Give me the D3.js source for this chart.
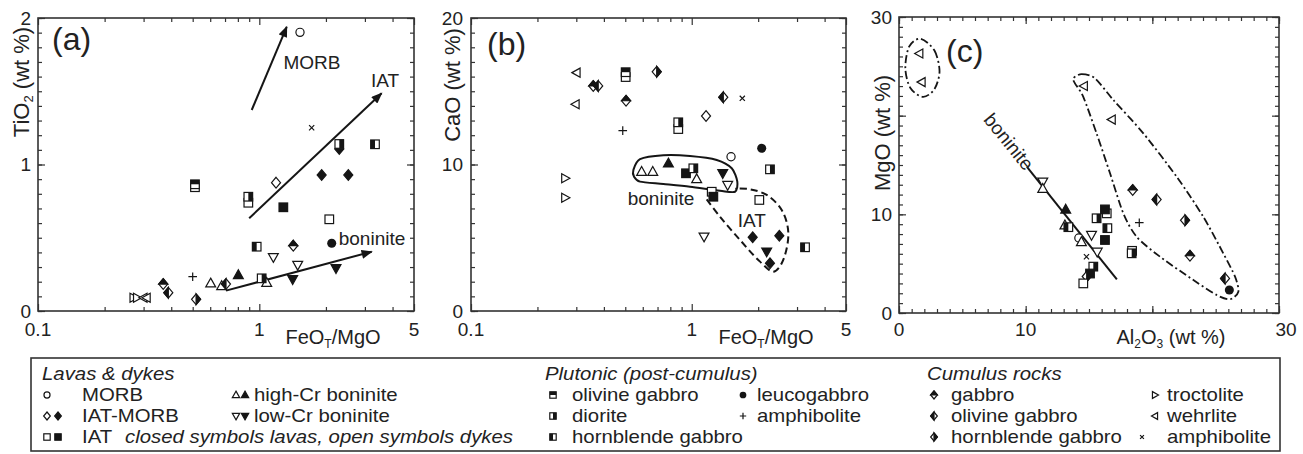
<!DOCTYPE html>
<html><head><meta charset="utf-8">
<script src="https://cdn.jsdelivr.net/npm/d3@7"></script>
<style>
body{margin:0;background:#fff}
text{font-family:"Liberation Sans",Arial,sans-serif;fill:#222}
</style>
</head><body>
<svg id="chart" width="1303" height="454"></svg>
<script>
// ---------------- DATA ----------------
// type codes: MORB, IATMORB_o/f, IAT_o/f, hcr_o/f (high-Cr boninite), lcr_o/f (low-Cr boninite),
// p_olgab, p_dior, p_hbl, p_leuco, p_amph (plutonic), c_gab, c_olgab, c_hbl, c_troc, c_wehr, c_amph (cumulus)
const pointsA = [ // FeOT/MgO, TiO2
  ["MORB",1.527,1.902],["c_amph",1.724,1.251],
  ["IATMORB_f",2.298,1.106],["p_dior",2.298,1.140],["p_hbl",3.332,1.138],
  ["IATMORB_f",1.913,0.928],["IATMORB_f",2.524,0.928],["IATMORB_o",1.190,0.876],
  ["IAT_o",0.512,0.845],["p_olgab",0.512,0.865],["IAT_o",0.892,0.739],["p_dior",0.892,0.780],
  ["IAT_f",1.284,0.708],["IAT_o",2.071,0.626],["p_leuco",2.124,0.462],
  ["p_hbl",0.973,0.439],["c_gab",1.424,0.446],
  ["lcr_o",1.157,0.367],["lcr_o",1.491,0.314],["lcr_f",2.221,0.291],["lcr_f",1.415,0.216],
  ["hcr_o",1.080,0.193],["p_dior",1.025,0.223],["hcr_f",0.804,0.246],
  ["hcr_o",0.603,0.189],["hcr_o",0.676,0.171],["c_olgab",0.707,0.184],
  ["p_amph",0.500,0.234],["c_gab",0.368,0.184],["c_olgab",0.388,0.125],["c_hbl",0.518,0.080],
  ["c_troc",0.270,0.091],["c_troc",0.280,0.091],["c_wehr",0.300,0.091],["c_wehr",0.310,0.091]
];
const pointsB = [ // FeOT/MgO, CaO
  ["c_wehr",0.301,16.27],["c_wehr",0.298,14.11],["c_troc",0.267,9.06],["c_troc",0.267,7.73],
  ["c_gab",0.358,15.36],["c_olgab",0.377,15.36],["IAT_o",0.502,15.97],["p_olgab",0.502,16.3],
  ["c_hbl",0.694,16.33],["c_gab",0.504,14.35],["p_amph",0.487,12.31],
  ["IAT_o",0.869,12.42],["p_dior",0.869,12.88],["IATMORB_o",1.161,13.31],
  ["c_olgab",1.390,14.59],["c_amph",1.695,14.52],["MORB",1.507,10.53],["p_leuco",2.075,11.11],
  ["p_dior",2.262,9.67],["hcr_o",0.593,9.51],["hcr_o",0.666,9.51],["hcr_f",0.784,10.08],
  ["IAT_f",0.942,9.40],["p_dior",1.017,9.74],["hcr_o",1.053,9.01],["lcr_f",1.382,9.40],
  ["lcr_o",1.455,8.60],["IAT_o",1.232,8.14],["IAT_f",1.253,7.80],["IAT_o",2.024,7.58],
  ["lcr_o",1.137,5.07],["IATMORB_f",1.889,5.03],["IATMORB_f",2.494,5.14],
  ["IATMORB_f",2.262,3.26],["lcr_f",2.186,4.05],["p_hbl",3.261,4.35]
];
const pointsC = [ // Al2O3, MgO
  ["c_wehr",1.61,26.3],["c_wehr",1.79,23.4],["c_wehr",14.6,23.0],["c_wehr",16.8,19.6],
  ["lcr_o",11.35,13.3],["hcr_o",11.35,12.6],["hcr_f",13.16,10.5],
  ["hcr_o",13.1,8.9],["p_hbl",13.37,8.7],["MORB",14.2,7.6],["hcr_o",14.4,7.2],
  ["lcr_o",15.2,7.9],["lcr_o",15.65,6.2],["c_amph",14.8,5.7],
  ["IAT_o",16.4,10.1],["IAT_f",16.26,10.5],["p_dior",15.6,9.6],["p_hbl",16.45,8.6],["IAT_f",16.26,7.4],
  ["p_dior",15.34,4.7],["IAT_f",15.08,4.0],["c_hbl",14.82,3.7],["IAT_o",14.55,3.0],
  ["IAT_o",18.4,6.3],["p_dior",18.37,6.05],
  ["c_gab",18.45,12.47],["c_olgab",20.34,11.5],["c_hbl",22.58,9.4],["c_gab",22.97,5.8],["c_olgab",25.74,3.5],
  ["p_amph",18.97,9.15],["p_leuco",26.08,2.33]
];
const arrowsA = [
  {label:"MORB", from:[0.924,1.372], to:[1.33,1.94], at:[1.73,1.70]},
  {label:"IAT", from:[0.90,0.633], to:[3.57,1.486], at:[3.70,1.577]},
  {label:"boninite", from:[0.707,0.139], to:[3.22,0.405], at:[3.23,0.498]}
];
const fieldBoniniteB = [[0.544,9.62],[0.583,10.36],[0.744,10.63],[0.982,10.58],[1.298,10.31],[1.518,9.74],
  [1.609,8.83],[1.571,8.14],[1.343,8.21],[0.982,8.48],[0.744,8.67],[0.583,8.83],[0.548,9.17]];
const fieldIATB = [[1.169,7.62],[1.343,6.44],[1.655,4.85],[2.039,3.37],[2.343,2.68],[2.557,3.26],
  [2.740,5.30],[2.557,6.89],[2.186,7.92],[1.837,8.31],[1.571,8.35]];
const fieldWehrC = [[1.7,27.8],[2.8,26.6],[3.2,24.5],[2.8,22.7],[1.9,21.9],[0.9,22.8],[0.5,24.8],[0.8,27.0]];
const fieldCumC = [[13.76,23.79],[14.42,24.22],[15.47,23.79],[16.92,21.59],[19.29,18.21],[21.92,13.81],
  [24.02,9.76],[25.6,6.05],[26.53,3.68],[26.79,2.16],[26.13,1.39],[25.08,1.82],[23.24,3.34],[20.6,5.71],
  [18.76,7.73],[17.71,10.1],[16.66,14.16],[15.6,18.2],[14.55,21.9],[13.89,23.28]];
const boniniteLineC = [[10.1,14.8],[17.2,3.4]];
const logMajor = [0.1, 1, 5], logMinor = [0.2,0.3,0.4,0.5,0.6,0.7,0.8,0.9,2,3,4];
const xLabelsLog = [["0.1",0.1],["1",1],["5",5]];
const yLabelsA = ["0","1","2"], yLabelsB = ["0","10","20"], yLabelsC = ["0","10","30"];
const xLabelsC = ["0","10","30"];
const legendLavas = [["MORB",["MORB"]],["IAT-MORB",["IATMORB_o","IATMORB_f"]],["IAT",["IAT_o","IAT_f"]]];
const legendBon = [["high-Cr boninite",["hcr_o","hcr_f"]],["low-Cr boninite",["lcr_o","lcr_f"]]];
const legendPlut1 = [["olivine gabbro","p_olgab"],["diorite","p_dior"],["hornblende gabbro","p_hbl"]];
const legendPlut2 = [["leucogabbro","p_leuco"],["amphibolite","p_amph"]];
const legendCum1 = [["gabbro","c_gab"],["olivine gabbro","c_olgab"],["hornblende gabbro","c_hbl"]];
const legendCum2 = [["troctolite","c_troc"],["wehrlite","c_wehr"],["amphibolite","c_amph"]];

// ---------------- DRAW ----------------
const svg = d3.select("#chart");
const K = "#151515";
const defs = svg.append("defs");
defs.append("marker").attr("id","arr").attr("viewBox","0 0 10 8").attr("refX",9).attr("refY",4)
  .attr("markerWidth",12).attr("markerHeight",9).attr("markerUnits","userSpaceOnUse").attr("orient","auto")
  .append("path").attr("d","M0,0L10,4L0,8Z").attr("fill",K);

function marker(g, t, cx, cy, s) {
  const sw = 1.2;
  const poly = (pts, fill) => g.append("polygon").attr("points", pts.map(p=>p.join(",")).join(" "))
      .attr("fill", fill).attr("stroke", K).attr("stroke-width", sw).attr("stroke-linejoin","miter");
  const sq = (fill) => g.append("rect").attr("x",cx-s).attr("y",cy-s).attr("width",2*s).attr("height",2*s)
      .attr("fill",fill).attr("stroke",K).attr("stroke-width",sw);
  const h = s*1.25, w = s*1.05;
  const dia = [[cx,cy-h],[cx+w,cy],[cx,cy+h],[cx-w,cy]];
  switch(t){
    case "MORB": g.append("circle").attr("cx",cx).attr("cy",cy).attr("r",s*0.95).attr("fill","#fff").attr("stroke",K).attr("stroke-width",sw); break;
    case "p_leuco": g.append("circle").attr("cx",cx).attr("cy",cy).attr("r",s*1.05).attr("fill",K); break;
    case "IATMORB_o": poly(dia,"#fff"); break;
    case "IATMORB_f": poly(dia,K); break;
    case "IAT_o": sq("#fff"); break;
    case "IAT_f": sq(K); break;
    case "hcr_o": case "hcr_f": poly([[cx,cy-s*1.2],[cx+s*1.15,cy+s*0.85],[cx-s*1.15,cy+s*0.85]], t==="hcr_f"?K:"#fff"); break;
    case "lcr_o": case "lcr_f": poly([[cx,cy+s*1.2],[cx+s*1.15,cy-s*0.85],[cx-s*1.15,cy-s*0.85]], t==="lcr_f"?K:"#fff"); break;
    case "c_troc": poly([[cx+s*1.1,cy],[cx-s*0.8,cy-s*1.05],[cx-s*0.8,cy+s*1.05]],"#fff"); break;
    case "c_wehr": poly([[cx-s*1.1,cy],[cx+s*0.8,cy-s*1.05],[cx+s*0.8,cy+s*1.05]],"#fff"); break;
    case "p_olgab": sq("#fff"); g.append("rect").attr("x",cx-s).attr("y",cy-s).attr("width",2*s).attr("height",s).attr("fill",K); break;
    case "p_dior": sq("#fff"); g.append("rect").attr("x",cx).attr("y",cy-s).attr("width",s).attr("height",2*s).attr("fill",K); break;
    case "p_hbl": sq("#fff"); g.append("rect").attr("x",cx-s).attr("y",cy-s).attr("width",s).attr("height",2*s).attr("fill",K); break;
    case "c_gab": poly(dia,"#fff"); poly([[cx,cy-h],[cx+w,cy],[cx-w,cy]],K); break;
    case "c_olgab": poly(dia,"#fff"); poly([[cx,cy-h],[cx,cy+h],[cx-w,cy]],K); break;
    case "c_hbl": poly(dia,"#fff"); poly([[cx,cy-h],[cx+w,cy],[cx,cy+h]],K); break;
    case "p_amph": g.append("path").attr("d",`M${cx-s},${cy}H${cx+s}M${cx},${cy-s}V${cy+s}`).attr("stroke",K).attr("stroke-width",1.2); break;
    case "c_amph": { const a=s*0.6; g.append("path").attr("d",`M${cx-a},${cy-a}L${cx+a},${cy+a}M${cx-a},${cy+a}L${cx+a},${cy-a}`).attr("stroke",K).attr("stroke-width",1.2); break; }
  }
}

function frame(g, x0, x1, y0, y1){
  g.append("rect").attr("x",x0).attr("y",y0).attr("width",x1-x0).attr("height",y1-y0)
    .attr("fill","none").attr("stroke","#333").attr("stroke-width",1.6);
}
function ticks(g, x, y, xMaj, xMin, yMaj, yMin){
  const [x0,x1] = x.range(), [y1,y0] = y.range();
  const H = 7, h = 4;
  const add = (axis, tr) => { const a = g.append("g").attr("transform",tr).call(axis);
    a.select(".domain").remove(); a.selectAll(".tick text").remove();
    a.selectAll(".tick line").attr("stroke","#333").attr("stroke-width",1.2); };
  add(d3.axisBottom(x).tickValues(xMaj).tickSize(-H), `translate(0,${y1})`);
  add(d3.axisBottom(x).tickValues(xMin).tickSize(-h), `translate(0,${y1})`);
  add(d3.axisTop(x).tickValues(xMaj).tickSize(-H), `translate(0,${y0})`);
  add(d3.axisTop(x).tickValues(xMin).tickSize(-h), `translate(0,${y0})`);
  add(d3.axisLeft(y).tickValues(yMaj).tickSize(-H), `translate(${x0},0)`);
  add(d3.axisLeft(y).tickValues(yMin).tickSize(-h), `translate(${x0},0)`);
  add(d3.axisRight(y).tickValues(yMaj).tickSize(-H), `translate(${x1},0)`);
  add(d3.axisRight(y).tickValues(yMin).tickSize(-h), `translate(${x1},0)`);
}
function ytitle(g, cx, cy, parts){
  const t = g.append("text").attr("transform",`translate(${cx},${cy}) rotate(-90)`)
    .attr("text-anchor","middle").attr("dy","0.35em").attr("font-size",22);
  let prev=false;
  parts.forEach(([s,sub]) => { const ts = t.append("tspan").text(s);
    if(sub){ ts.attr("font-size",13).attr("dy",4); } else if(prev){ ts.attr("dy",-4); }
    prev = !!sub; });
}
function xtitle(g, cx, cy, parts){
  const t = g.append("text").attr("x",cx).attr("y",cy).attr("text-anchor","middle").attr("font-size",20);
  let prev=false;
  parts.forEach(([s,sub]) => { const ts = t.append("tspan").text(s);
    if(sub){ ts.attr("font-size",12).attr("dy",4); } else if(prev){ ts.attr("dy",-4); }
    prev = !!sub; });
}
const minorLin = (a,b,st) => d3.range(a,b+1e-9,st).map(v=>+v.toFixed(4));

// ---------- panel (a) ----------
const xa = d3.scaleLog().domain([0.1,5]).range([38,414]);
const ya = d3.scaleLinear().domain([0,2]).range([311,18]);
const gA = svg.append("g");
ticks(gA, xa, ya, logMajor, logMinor, [0,1,2], minorLin(0,2,0.1));
frame(gA, 38, 414, 18, 311);
arrowsA.forEach(a => {
  gA.append("line").attr("x1",xa(a.from[0])).attr("y1",ya(a.from[1])).attr("x2",xa(a.to[0])).attr("y2",ya(a.to[1]))
    .attr("stroke",K).attr("stroke-width",2).attr("marker-end","url(#arr)");
  gA.append("text").attr("x",xa(a.at[0])).attr("y",ya(a.at[1])).attr("dy","0.35em").attr("text-anchor","middle")
    .attr("font-size",19).text(a.label);
});
pointsA.forEach(p => marker(gA, p[0], xa(p[1]), ya(p[2]), 4.3));
gA.append("text").attr("x",52).attr("y",50).attr("font-size",32).text("(a)");
yLabelsA.forEach(v => gA.append("text").attr("x",31).attr("y",ya(+v)).attr("dy","0.36em").attr("text-anchor","end").attr("font-size",19).text(v));
xLabelsLog.forEach(([s,v]) => gA.append("text").attr("x",xa(v)).attr("y",336).attr("text-anchor","middle").attr("font-size",19).text(s));
ytitle(gA, 21, 82, [["TiO"],["2",1],[" (wt %)"]]);
xtitle(gA, 333, 344, [["FeO"],["T",1],["/MgO"]]);

// ---------- panel (b) ----------
const xb = d3.scaleLog().domain([0.1,5]).range([471,846]);
const yb = d3.scaleLinear().domain([0,20]).range([311,18]);
const gB = svg.append("g");
ticks(gB, xb, yb, logMajor, logMinor, [0,10,20], minorLin(0,20,1));
frame(gB, 471, 846, 18, 311);
gB.append("path").attr("d", d3.line().x(d=>xb(d[0])).y(d=>yb(d[1])).curve(d3.curveCardinalClosed.tension(0.2))(fieldBoniniteB))
  .attr("fill","none").attr("stroke",K).attr("stroke-width",2);
gB.append("path").attr("d", d3.line().x(d=>xb(d[0])).y(d=>yb(d[1])).curve(d3.curveCatmullRom)(fieldIATB))
  .attr("fill","none").attr("stroke",K).attr("stroke-width",2).attr("stroke-dasharray","7,4");
pointsB.forEach(p => marker(gB, p[0], xb(p[1]), yb(p[2]), 4.3));
gB.append("text").attr("x",xb(0.726)).attr("y",yb(7.71)).attr("dy","0.35em").attr("text-anchor","middle").attr("font-size",19).text("boninite");
gB.append("text").attr("x",xb(1.87)).attr("y",yb(6.21)).attr("dy","0.35em").attr("text-anchor","middle").attr("font-size",19).text("IAT");
gB.append("text").attr("x",487).attr("y",55).attr("font-size",32).text("(b)");
yLabelsB.forEach(v => gB.append("text").attr("x",463).attr("y",yb(+v)).attr("dy","0.36em").attr("text-anchor","end").attr("font-size",19).text(v));
xLabelsLog.forEach(([s,v]) => gB.append("text").attr("x",xb(v)).attr("y",336).attr("text-anchor","middle").attr("font-size",19).text(s));
ytitle(gB, 452, 85, [["CaO (wt %)"]]);
xtitle(gB, 766, 344, [["FeO"],["T",1],["/MgO"]]);

// ---------- panel (c) ----------
const xc = d3.scaleLinear().domain([0,30]).range([899,1279]);
const yc = d3.scaleLinear().domain([0,30]).range([313,17]);
const gC = svg.append("g");
ticks(gC, xc, yc, [0,10,20,30], minorLin(0,30,1), [0,10,20,30], minorLin(0,30,1));
frame(gC, 899, 1279, 17, 313);
const lineC = d3.line().x(d=>xc(d[0])).y(d=>yc(d[1]));
gC.append("path").attr("d", lineC.curve(d3.curveCardinalClosed.tension(0.1))(fieldWehrC))
  .attr("fill","none").attr("stroke",K).attr("stroke-width",1.8).attr("stroke-dasharray","8,3,2,3");
gC.append("path").attr("d", lineC.curve(d3.curveCardinalClosed.tension(0.2))(fieldCumC))
  .attr("fill","none").attr("stroke",K).attr("stroke-width",1.8).attr("stroke-dasharray","8,3,2,3");
gC.append("path").attr("d", d3.line().x(d=>xc(d[0])).y(d=>yc(d[1]))(boniniteLineC))
  .attr("fill","none").attr("stroke",K).attr("stroke-width",2);
pointsC.forEach(p => marker(gC, p[0], xc(p[1]), yc(p[2]), 4.3));
gC.append("text").attr("transform",`translate(${xc(8.68)},${yc(17.36)}) rotate(51)`).attr("dy","0.35em")
  .attr("text-anchor","middle").attr("font-size",19).text("boninite");
gC.append("text").attr("x",946).attr("y",62).attr("font-size",32).text("(c)");
yLabelsC.forEach(v => gC.append("text").attr("x",892).attr("y",yc(+v)).attr("dy","0.36em").attr("text-anchor","end").attr("font-size",19).text(v));
xLabelsC.forEach(v => gC.append("text").attr("x",xc(+v) + (v==="30"?7:0)).attr("y",336).attr("text-anchor","middle").attr("font-size",19).text(v));
xtitle(gC, 1171, 344, [["Al"],["2",1],["O"],["3",1],[" (wt %)"]]);
ytitle(gC, 882, 133, [["MgO (wt %)"]]);

// ---------- legend ----------
const gL = svg.append("g");
gL.append("rect").attr("x",31).attr("y",358).attr("width",1249).attr("height",93)
  .attr("fill","none").attr("stroke","#333").attr("stroke-width",1.6);
const rowY = [374, 395, 416, 437];
const LFS = 18.5, STRETCH = 1.1;
const lt = (x, y, s, it) => {
  const t = gL.append("text").attr("x",x).attr("y",y).attr("dy","0.35em").attr("font-size",LFS)
    .attr("font-style", it ? "italic" : "normal").text(s);
  const w = t.node().getComputedTextLength();
  t.attr("textLength", (w*STRETCH).toFixed(1)).attr("lengthAdjust","spacingAndGlyphs");
  return t;
};
lt(42, rowY[0], "Lavas & dykes", true);
legendLavas.forEach(([lab, syms], i) => {
  syms.forEach((s, j) => marker(gL, s, 47 + j*11, rowY[i+1], 3.2));
  lt(82, rowY[i+1], lab);
});
lt(125, rowY[3], "closed symbols lavas, open symbols dykes", true);
legendBon.forEach(([lab, syms], i) => {
  syms.forEach((s, j) => marker(gL, s, 236 + j*9, rowY[i+1], 3.2));
  lt(254, rowY[i+1], lab);
});
lt(545, rowY[0], "Plutonic (post-cumulus)", true);
legendPlut1.forEach(([lab, s], i) => { marker(gL, s, 553, rowY[i+1], 3.2); lt(572, rowY[i+1], lab); });
legendPlut2.forEach(([lab, s], i) => { marker(gL, s, 743, rowY[i+1], 3.2); lt(757, rowY[i+1], lab); });
lt(927, rowY[0], "Cumulus rocks", true);
legendCum1.forEach(([lab, s], i) => { marker(gL, s, 934, rowY[i+1], 3.2); lt(951, rowY[i+1], lab); });
legendCum2.forEach(([lab, s], i) => { marker(gL, s, i===2?1142:1155, rowY[i+1], 3.2); lt(1167, rowY[i+1], lab); });
</script>
</body></html>
